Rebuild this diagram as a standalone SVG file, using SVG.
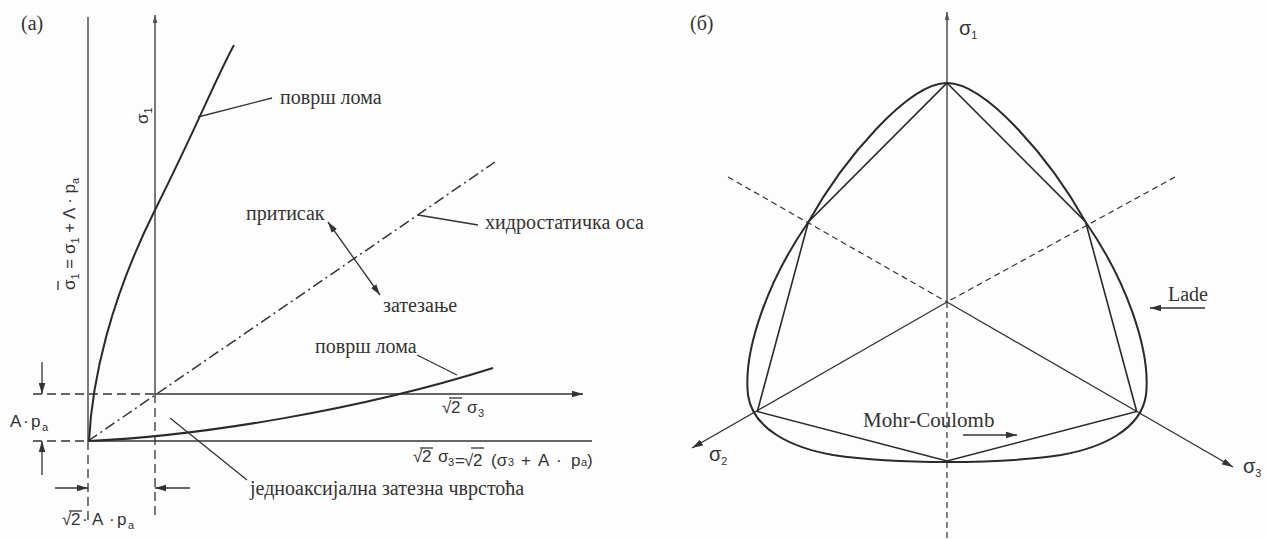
<svg xmlns="http://www.w3.org/2000/svg" width="1268" height="539" viewBox="0 0 1268 539">
<defs>
<style>
.bg{fill:#fdfdfd}
.ax{stroke:#333;stroke-width:1.3;fill:none}
.dsh{stroke:#333;stroke-width:1.3;fill:none;stroke-dasharray:9 5}
.dsh2{stroke:#333;stroke-width:1.2;fill:none;stroke-dasharray:6 4}
.dd{stroke:#333;stroke-width:1.5;fill:none;stroke-dasharray:11 4 2 4}
.cv{stroke:#2a2a2a;stroke-width:2;fill:none}
.ld{stroke:#333;stroke-width:1.3;fill:none}
.cy{font-family:"Liberation Serif","DejaVu Serif",serif;font-size:20px;fill:#333}
.sn{font-family:"Liberation Sans","DejaVu Sans",sans-serif;font-size:17px;fill:#333}
.sg{font-family:"Liberation Sans","DejaVu Sans",sans-serif;font-size:20px;fill:#333}
.sb{font-size:11px}
</style>
<marker id="ah" viewBox="0 0 10 6" refX="10" refY="3" markerWidth="11" markerHeight="7" orient="auto-start-reverse" markerUnits="userSpaceOnUse"><path d="M0,0 L10,3 L0,6 z" fill="#333"/></marker>
<marker id="ahs" viewBox="0 0 10 6" refX="10" refY="3" markerWidth="8" markerHeight="5" orient="auto" markerUnits="userSpaceOnUse"><path d="M0,0 L10,3 L0,6 z" fill="#555"/></marker>
</defs>
<rect class="bg" x="0" y="0" width="1268" height="539"/>

<!-- Figure (a) -->
<g id="fig-a">
<text class="cy" x="21" y="30">(a)</text>
<g id="a-axes">
<line class="ax" x1="88" y1="17" x2="88" y2="441"/>
<line class="dsh" x1="88" y1="441" x2="88" y2="520"/>
<line class="ax" x1="155" y1="394" x2="155" y2="15" marker-end="url(#ahs)"/>
<line class="dsh" x1="155" y1="394" x2="155" y2="520"/>
<line class="dsh" x1="33" y1="394" x2="155" y2="394"/>
<line class="ax" x1="155" y1="394" x2="583" y2="394" marker-end="url(#ah)"/>
<line class="dsh" x1="33" y1="441" x2="88" y2="441"/>
<line class="ax" x1="88" y1="441" x2="592" y2="441"/>
</g>
<g id="a-dims">
<line class="ax" x1="42" y1="362" x2="42" y2="394" marker-end="url(#ah)"/>
<line class="ax" x1="42" y1="475" x2="42" y2="441" marker-end="url(#ah)"/>
<line class="ax" x1="55" y1="488" x2="88" y2="488" marker-end="url(#ah)"/>
<line class="ax" x1="190" y1="488" x2="155" y2="488" marker-end="url(#ah)"/>
</g>
<g id="a-hydro">
<line class="dd" x1="88" y1="441" x2="495" y2="162"/>
</g>
<g id="a-curves">
<path class="cv" d="M89,441 C92,380 110,300 155,210 S215,80 234,45"/>
<path class="cv" d="M89,441 C200,436 360,410 493,368"/>
</g>
<g id="a-leaders">
<line class="ld" x1="198" y1="117" x2="272" y2="98"/>
<line class="ld" x1="418" y1="215" x2="478" y2="225"/>
<line class="ld" x1="457" y1="375" x2="417" y2="355"/>
<line class="ld" x1="170" y1="418" x2="247" y2="480"/>
<line class="ld" x1="328" y1="222" x2="380" y2="295" marker-start="url(#ah)" marker-end="url(#ah)"/>
</g>
<g id="a-labels">
<text class="cy" x="280" y="104">површ лома</text>
<text class="cy" x="246" y="220">притисак</text>
<text class="cy" x="485" y="229">хидростатичка оса</text>
<text class="cy" x="383" y="312">затезање</text>
<text class="cy" x="315" y="353">површ лома</text>
<text class="cy" x="250" y="495">једноаксијална затезна чврстоћа</text>
<g transform="translate(75,290) rotate(-90)">
<text class="sn" x="0" y="0">σ<tspan class="sb" dy="4">1</tspan><tspan dy="-4"> = σ</tspan><tspan class="sb" dy="4">1</tspan><tspan dy="-4"> + Λ · p</tspan><tspan class="sb" dy="4">a</tspan></text>
<line class="ax" x1="0" y1="-17" x2="9" y2="-17"/>
</g>
<text class="sn" transform="translate(148,124) rotate(-90)">σ<tspan class="sb" dy="4">1</tspan></text>
<text class="sn" y="427"><tspan x="10">A</tspan><tspan x="23">·</tspan><tspan x="31">p</tspan><tspan class="sb" x="42" y="431">a</tspan></text>
<text class="sn" y="413"><tspan x="442">√</tspan><tspan x="451">2</tspan><tspan x="467">σ</tspan><tspan class="sb" x="478" y="417">3</tspan></text>
<line class="ax" x1="449" y1="398" x2="462" y2="398"/>
<text class="sn" y="462"><tspan x="413">√</tspan><tspan x="422">2</tspan><tspan x="438">σ</tspan><tspan class="sb" x="448" y="466">3</tspan><tspan x="455">=</tspan><tspan x="464">√</tspan><tspan x="473">2</tspan><tspan x="491">(σ</tspan><tspan class="sb" x="508" y="466">3</tspan><tspan x="521">+</tspan><tspan x="538">A</tspan><tspan x="556">·</tspan><tspan x="571">p</tspan><tspan class="sb" x="581" y="466">a</tspan><tspan x="587">)</tspan></text>
<line class="ax" x1="420" y1="448" x2="433" y2="448"/>
<line class="ax" x1="471" y1="448" x2="484" y2="448"/>
<text class="sn" y="525"><tspan x="62">√</tspan><tspan x="71">2</tspan><tspan x="82">·</tspan><tspan x="92">A</tspan><tspan x="109">·</tspan><tspan x="117">p</tspan><tspan class="sb" x="128" y="529">a</tspan></text>
<line class="ax" x1="69" y1="511" x2="82" y2="511"/>
</g>
</g>

<!-- Figure (б) -->
<g id="fig-b">
<text class="cy" x="690" y="30">(б)</text>
<g id="b-axes">
<line class="ax" x1="947" y1="302" x2="947" y2="12" marker-end="url(#ahs)"/>
<line class="dsh2" x1="947" y1="302" x2="947" y2="539"/>
<line class="dsh2" x1="728" y1="177" x2="947" y2="302"/>
<line class="dsh2" x1="1175" y1="177" x2="947" y2="302"/>
<line class="ax" x1="947" y1="302" x2="692" y2="448" marker-end="url(#ah)"/>
<line class="ax" x1="947" y1="302" x2="1233" y2="467" marker-end="url(#ah)"/>
</g>
<g id="b-mohr-coulomb">
<polygon class="cv" style="stroke-width:1.6" points="947,83 1085.6,222 1136.7,411.5 947,461 757.3,411.5 808.4,222"/>
</g>
<g id="b-lade">
<path class="cv" d="M947,83 C986,83 1051,160 1085.6,222 C1126,280 1151,350 1146,395 C1141,430 1101,448 1061,455 C1021,461 981,462 947,462 C913,462 873,461 833,455 C793,448 753,430 748,395 C743,350 768,280 808.4,222 C843,160 908,83 947,83 Z"/>
</g>
<g id="b-labels">
<text class="sg" x="959" y="35">σ<tspan class="sb" dy="4">1</tspan></text>
<text class="sg" x="709" y="461">σ<tspan class="sb" dy="4">2</tspan></text>
<text class="sg" x="1243" y="473">σ<tspan class="sb" dy="4">3</tspan></text>
<text class="cy" x="1168" y="301" style="font-size:20px">Lade</text>
<line class="ax" x1="1205" y1="308" x2="1150" y2="308" marker-end="url(#ah)"/>
<text class="cy" x="863" y="427" style="font-size:21px">Mohr-Coulomb</text>
<line class="ax" x1="963" y1="435" x2="1017" y2="435" marker-end="url(#ah)"/>
</g>
</g>
</svg>
